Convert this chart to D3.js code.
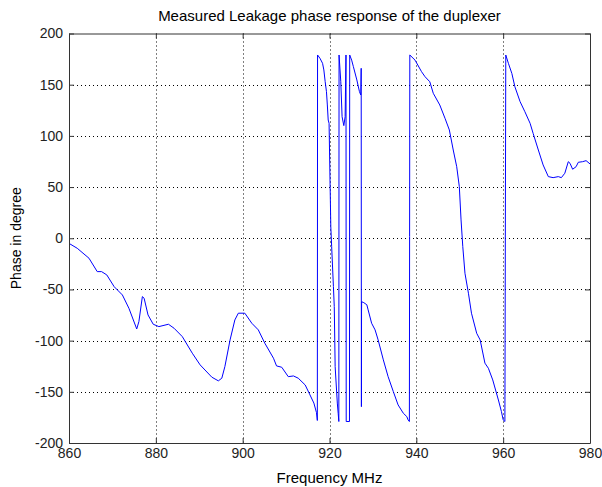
<!DOCTYPE html>
<html><head><meta charset="utf-8">
<script src="https://cdn.jsdelivr.net/npm/d3@7"></script>
<style>
body{margin:0;background:#fff;}
svg{display:block;}
text{font-family:"Liberation Sans",Arial,Helvetica,sans-serif;}
</style></head>
<body>
<script>
const title = "Measured Leakage phase response of the duplexer";
const xLabel = "Frequency MHz";
const yLabel = "Phase in degree";
const xTicks = [860, 880, 900, 920, 940, 960, 980];
const yTicks = [-200, -150, -100, -50, 0, 50, 100, 150, 200];

const freq = [860,861.9,864.6,866.5,867.5,868.7,870.4,872.3,873.8,875.6,876.1,876.9,877.3,878.2,879.4,880.7,882.9,884.2,886.1,888.4,890.2,892.9,894.4,895.2,895.9,897.1,898.2,899,900.5,902.1,903.6,905.1,907.1,907.8,909,910.5,911.7,912.8,914.4,915.5,916.4,917,917.2,
917.25,917.8,918.4,918.7,919,919.3,919.5,919.7,919.9,920.3,920.5,920.9,921.1,921.3,921.8,922,922.15,
922.2,922.6,922.9,923.3,923.6,923.8,923.85,924.6,924.65,925.1,925.5,926.3,926.9,927.2,927.3,927.35,927.38,927.4,
927.9,928.6,928.9,929.7,930.5,931.2,932.4,933.5,934.7,935.8,937,937.8,938.1,938.4,938.45,
938.5,939.7,941.2,942,943.1,943.9,945.4,946.6,947.6,948.5,949.3,949.9,950.3,950.7,951.2,952,952.7,953.9,954.7,955.8,956.6,957.6,958.9,959.6,960,960.4,
960.6,961.2,962,962.7,963.9,965,966.2,966.9,968.1,969.2,970.4,971.5,972.7,973.4,974.2,975,975.4,976,976.8,977.3,978.3,979.1,980];
const phase = [-5,-9.8,-19.5,-32.6,-32.6,-35.8,-47.3,-55.4,-68.4,-88.6,-81.4,-57,-58.6,-74.9,-84,-86.3,-84,-87.9,-96.1,-112.3,-123.7,-135.7,-139.3,-136.7,-125.4,-99.3,-79.8,-73.2,-73.2,-83,-89.5,-102.5,-117.2,-124.7,-126,-135.2,-134.5,-136.7,-143.3,-153,-161,-170.3,-178,
179,175.8,170.9,164.4,153,143.2,130.2,115.5,112.3,11.3,-8.2,-47.2,-66.8,-125.4,-161,-171,-179,
179,152.9,118.7,110,118.7,179,-179,-179,179,174,167.6,154.6,143.2,140,166,-164.5,-72,-62,
-62.9,-65,-70,-83,-89.5,-99.3,-118.8,-135.2,-149.8,-162.8,-170.9,-174.2,-177.4,-179,1.6,
179,174,162.7,157.8,152.9,141.6,130.2,117.2,105.8,86.2,69.9,50.4,17.9,-8.2,-34.2,-53.7,-73.2,-92.8,-99.3,-122,-127,-138.4,-158,-169.3,-177.4,-179,
179,170.9,161,148,133.4,123.6,112.3,102.5,86.2,71.6,60.2,59.2,60.2,59.2,63.5,74.8,73.2,67.4,69.9,74.2,74.8,75.8,72.6];

const W = 602, H = 487;
const m = {left: 69, right: 12, top: 33.5, bottom: 44};
const svg = d3.select("body").append("svg").attr("width", W).attr("height", H);
const x = d3.scaleLinear().domain([860, 980]).range([m.left, W - m.right]);
const y = d3.scaleLinear().domain([-200, 200]).range([H - m.bottom, m.top]);

// grid
const grid = svg.append("g").attr("stroke", "#000").attr("stroke-dasharray", "1,3").attr("stroke-width", 1);
xTicks.slice(1, -1).forEach(t => grid.append("line").attr("x1", Math.round(x(t)) + 0.5).attr("x2", Math.round(x(t)) + 0.5).attr("y1", y(200)).attr("y2", y(-200)));
yTicks.slice(1, -1).forEach(t => grid.append("line").attr("y1", Math.round(y(t)) + 0.5).attr("y2", Math.round(y(t)) + 0.5).attr("x1", x(860)).attr("x2", x(980)));

// data line
const pts = freq.map((f, i) => [f, phase[i]]);
svg.append("path").datum(pts)
  .attr("fill", "none").attr("stroke", "#0000ff").attr("stroke-width", 1)
  .attr("d", d3.line().x(d => x(d[0])).y(d => y(d[1])));

// axes
const axCol = "#333";
const fmt = d => String(d);
function style(g, labels) {
  g.selectAll("path").attr("stroke", axCol);
  g.selectAll("line").attr("stroke", axCol);
  g.selectAll("text").attr("fill", "#222").style("font-size", "14px");
  if (!labels) g.selectAll("text").remove();
}
svg.append("g").attr("transform", `translate(0,${y(-200)})`)
  .call(d3.axisBottom(x).tickValues(xTicks).tickSize(-5).tickSizeOuter(0).tickPadding(5).tickFormat(fmt))
  .call(g => style(g, true));
svg.append("g").attr("transform", `translate(0,${y(200)})`)
  .call(d3.axisTop(x).tickValues(xTicks).tickSize(-5).tickSizeOuter(0))
  .call(g => style(g, false));
svg.append("g").attr("transform", `translate(${x(860)},0)`)
  .call(d3.axisLeft(y).tickValues(yTicks).tickSize(-5).tickSizeOuter(0).tickPadding(6).tickFormat(fmt))
  .call(g => style(g, true));
svg.append("g").attr("transform", `translate(${x(980)},0)`)
  .call(d3.axisRight(y).tickValues(yTicks).tickSize(-5).tickSizeOuter(0))
  .call(g => style(g, false));

svg.append("text").attr("x", (x(860) + x(980)) / 2).attr("y", 21).attr("text-anchor", "middle")
  .style("font-size", "15px").attr("fill", "#000").text(title);
svg.append("text").attr("x", (x(860) + x(980)) / 2).attr("y", 483).attr("text-anchor", "middle")
  .style("font-size", "15px").attr("fill", "#000").text(xLabel);
svg.append("text").attr("transform", `translate(21,${y(0)}) rotate(-90)`).attr("text-anchor", "middle")
  .style("font-size", "14px").attr("fill", "#000").text(yLabel);
</script>
</body></html>
